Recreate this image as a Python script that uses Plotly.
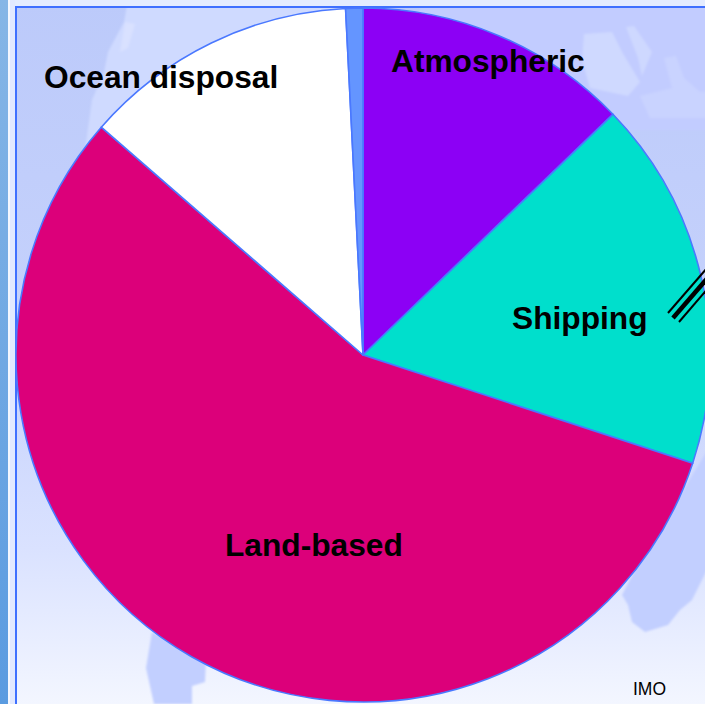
import base64
import plotly.graph_objects as go

categories = ["Atmospheric", "Shipping", "Land-based", "Ocean disposal", "Other"]
shares = [12.8, 17.25, 56.35, 12.8, 0.8]
slice_colors = ["#8c00f5", "#00dfcc", "#dc007a", "#ffffff", "#6495ff"]

W, H = 726, 704

svg = f'''<svg xmlns="http://www.w3.org/2000/svg" width="{W}" height="{H}" viewBox="0 0 {W} {H}">
<defs>
<linearGradient id="g" x1="0" y1="0" x2="0" y2="1">
<stop offset="0" stop-color="#bccafa"/><stop offset="0.5" stop-color="#c6d2fc"/>
<stop offset="0.78" stop-color="#dae2ff"/><stop offset="1" stop-color="#f3f6ff"/>
</linearGradient>
<linearGradient id="s" x1="0" y1="0" x2="0" y2="1">
<stop offset="0" stop-color="#86b6e6"/><stop offset="1" stop-color="#5a9be0"/>
</linearGradient>
<filter id="b" x="-10%" y="-10%" width="120%" height="120%"><feGaussianBlur stdDeviation="1.3"/></filter>
</defs>
<rect width="{W}" height="{H}" fill="url(#g)"/>
<g filter="url(#b)">
<path d="M128,0 L124,22 L108,52 L104,72 L92,100 L85,150 L360,150 L360,0 Z" fill="#cfdaff"/>
<path d="M125,22 L135,24 L128,48 L120,52 Z" fill="#d9e1ff"/>
<path d="M420,0 L726,0 L726,130 L420,130 Z" fill="#c2ccff"/>
<path d="M584,34 L612,32 L622,52 L640,82 L628,96 L590,88 L582,60 Z" fill="#cfd9ff"/>
<path d="M626,27 L634,26 L652,52 L642,76 L638,58 Z" fill="#ced8ff"/>
<path d="M664,58 L676,56 L684,78 L700,92 L726,90 L726,118 L650,118 L640,96 L672,88 Z" fill="#c9d3ff"/>
<path d="M640,560 L726,420 L726,532 L692,600 L680,610 L668,625 L645,632 L632,622 L628,605 L622,595 Z" fill="#c2cfff"/>
<path d="M152,632 L146,668 L154,704 L192,704 L192,686 L205,682 L206,660 Z" fill="#c2cfff"/>
</g>
<rect x="0" y="0" width="{W}" height="2" fill="#a9cdf2"/>
<rect x="8" y="0" width="{W}" height="6" fill="#e4ecff"/>
<rect x="0" y="0" width="8" height="{H}" fill="url(#s)"/>
<rect x="8" y="0" width="2" height="{H}" fill="#f4f7ff"/>
<rect x="10" y="0" width="5" height="{H}" fill="#e2e9ff"/>
<rect x="15" y="6" width="2" height="{H}" fill="#3f70ff"/>
<rect x="15" y="6" width="{W}" height="2" fill="#3f70ff"/>
</svg>'''
bg = "data:image/svg+xml;base64," + base64.b64encode(svg.encode()).decode()


def px(x):
    return x / W


def py(y):
    return 1 - y / H


labels = [
    ("Ocean disposal", 161, 77, 31.7, True),
    ("Atmospheric", 488, 61, 31.7, True),
    ("Shipping", 580, 318, 31.7, True),
    ("Land-based", 314, 545, 31.7, True),
    ("IMO", 649, 689, 17.5, False),
]

annotations = [
    dict(
        text=f"<b>{t}</b>" if bold else t,
        x=px(x), y=py(y), xref="paper", yref="paper",
        xanchor="center", yanchor="middle", showarrow=False,
        font=dict(family="Liberation Sans", size=size, color="#000000"),
    )
    for t, x, y, size, bold in labels
]

strokes = [
    (668, 313, 714, 260, 2),
    (673, 318, 718, 266, 4.5),
    (679, 322, 722, 272, 2),
]
shapes = [
    dict(type="line", xref="paper", yref="paper",
         x0=px(a), y0=py(b), x1=px(c), y1=py(d),
         line=dict(color="#000000", width=w))
    for a, b, c, d, w in strokes
]

fig = go.Figure(
    go.Pie(
        labels=categories,
        values=shares,
        sort=False,
        direction="clockwise",
        rotation=0,
        textinfo="none",
        hoverinfo="label+percent",
        marker=dict(colors=slice_colors, line=dict(color="#4a78ff", width=1.6)),
        domain=dict(x=[0, 1], y=[2 / H, 696 / H]),
        showlegend=False,
    )
)
fig.update_layout(
    width=W,
    height=H,
    autosize=False,
    margin=dict(l=0, r=0, t=0, b=0),
    paper_bgcolor="rgba(0,0,0,0)",
    annotations=annotations,
    shapes=shapes,
    images=[dict(source=bg, xref="paper", yref="paper", x=0, y=1, sizex=1, sizey=1,
                 xanchor="left", yanchor="top", sizing="stretch", layer="below")],
)
fig.write_html(
    "out.html",
    config={"displayModeBar": False},
    post_script="document.body.style.margin='0';document.body.style.overflow='hidden';document.documentElement.style.overflow='hidden';",
)
